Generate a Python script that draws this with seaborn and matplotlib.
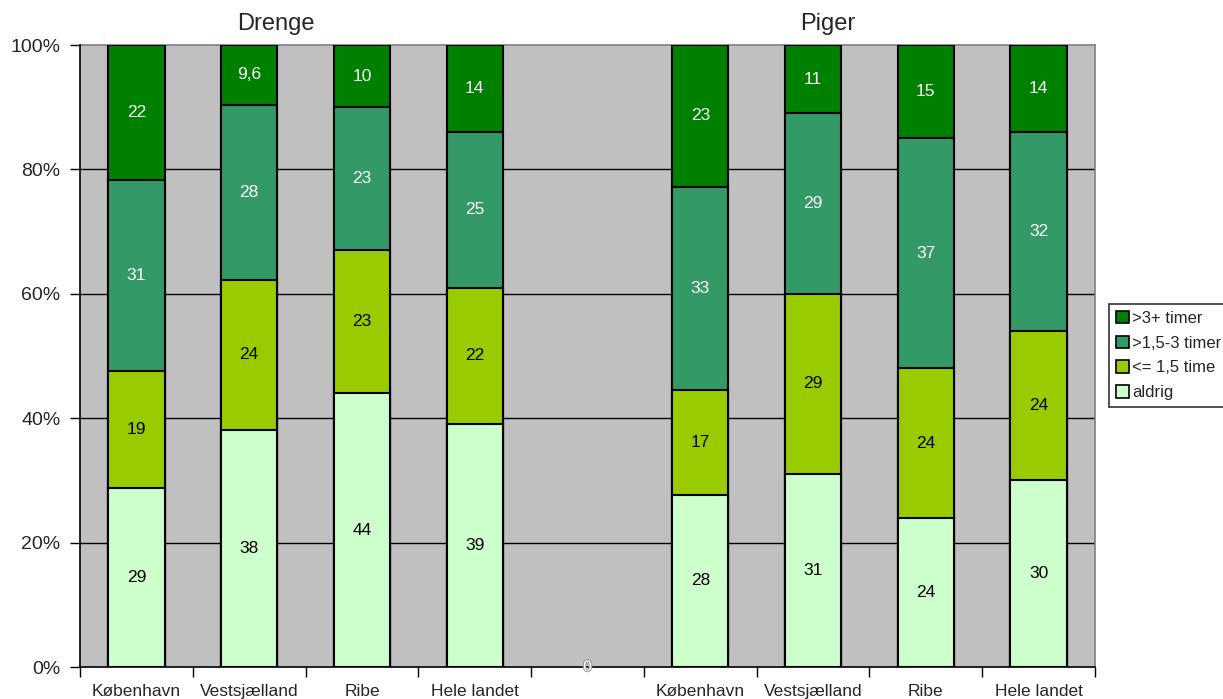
import numpy as np
import pandas as pd
import matplotlib
matplotlib.use("Agg")
import matplotlib.pyplot as plt
import matplotlib.patheffects as pe
from matplotlib.patches import Patch
import seaborn as sns

# Survey shares (percent) per region, stacked bottom -> top
regions = ["København", "Vestsjælland", "Ribe", "Hele landet"]
groups = ["Drenge", "Piger"]
series = ["aldrig", "<= 1,5 time", ">1,5-3 timer", ">3+ timer"]

drenge_aldrig = [29, 38, 44, 39]
drenge_le15 = [19, 24, 23, 22]
drenge_15_3 = [31, 28, 23, 25]
drenge_gt3 = [22, 9.6, 10, 14]

piger_aldrig = [28, 31, 24, 30]
piger_le15 = [17, 29, 24, 24]
piger_15_3 = [33, 29, 37, 32]
piger_gt3 = [23, 11, 15, 14]

colors = ["#CCFFCC", "#99CC00", "#339966", "#008000"]
label_colors = ["black", "black", "white", "white"]

sns.set_style("white")
plt.rcParams["font.family"] = ["Liberation Sans", "DejaVu Sans"]

values = {
    "Drenge": [drenge_aldrig, drenge_le15, drenge_15_3, drenge_gt3],
    "Piger": [piger_aldrig, piger_le15, piger_15_3, piger_gt3],
}

rows = []
for g in groups:
    for r_i, reg in enumerate(regions):
        key = f"{g}|{reg}"
        vals = [values[g][s][r_i] for s in range(4)]
        total = sum(vals)
        cum = 0.0
        for s_i, v in enumerate(vals):
            pct = v / total * 100
            rows.append(dict(key=key, series=series[s_i], value=v,
                             bottom=cum, top=cum + pct))
            cum += pct
df = pd.DataFrame(rows)

order = [f"Drenge|{r}" for r in regions] + ["gap"] + [f"Piger|{r}" for r in regions]

fig = plt.figure(figsize=(12.23, 6.99), dpi=100)
ax = fig.add_axes([80 / 1223, 1 - 667 / 699, 1015 / 1223, 622 / 699])
ax.set_facecolor("#C0C0C0")

# Overlapping cumulative bars, tallest first
for s_i in reversed(range(4)):
    sub = df[df["series"] == series[s_i]]
    sns.barplot(data=sub, x="key", y="top", order=order, color=colors[s_i],
                saturation=1, width=0.5, edgecolor="black", linewidth=1.5,
                errorbar=None, ax=ax, zorder=3)

# Segment labels
for _, row in df.iterrows():
    s_i = series.index(row["series"])
    xpos = order.index(row["key"])
    txt = f"{row['value']:g}".replace(".", ",")
    ax.text(xpos, (row["bottom"] + row["top"]) / 2, txt, ha="center",
            va="center", fontsize=12.5, color=label_colors[s_i], zorder=5)

# Empty separator slot label
ax.text(4, 0, "0", ha="center", va="center", fontsize=11, color="white",
        zorder=6, clip_on=False,
        path_effects=[pe.withStroke(linewidth=1.5, foreground="#999999")])

ax.set_xlim(-0.5, 8.5)
ax.set_ylim(0, 100)
ax.set_xlabel("")
ax.set_ylabel("")

# Gridlines
for y in [20, 40, 60, 80]:
    ax.axhline(y, color="black", lw=1, zorder=1)

ax.set_yticks([0, 20, 40, 60, 80, 100])
ax.set_yticklabels([f"{v}%" for v in [0, 20, 40, 60, 80, 100]], fontsize=14)
ax.tick_params(axis="y", direction="out", length=7, width=1, color="black",
               pad=7, left=True)

ax.set_xticks(np.arange(-0.5, 9, 1))
ax.set_xticklabels([])
ax.set_xticks(np.arange(0, 9), minor=True)
ax.set_xticklabels(regions + [""] + regions, minor=True, fontsize=12.5)
ax.tick_params(axis="x", which="major", direction="out", length=7, width=1,
               color="black", bottom=True)
ax.tick_params(axis="x", which="minor", length=0, pad=12)

for side in ["left", "bottom"]:
    ax.spines[side].set_color("black")
    ax.spines[side].set_linewidth(1.2)
for side in ["top", "right"]:
    ax.spines[side].set_color("#808080")
    ax.spines[side].set_linewidth(1.2)
ax.spines["left"].set_zorder(4)
ax.spines["bottom"].set_zorder(4)

# Group titles
fig.text(276 / 1223, 1 - 24 / 699, "Drenge", ha="center", va="center", fontsize=17)
fig.text(828 / 1223, 1 - 24 / 699, "Piger", ha="center", va="center", fontsize=17)

# Legend
handles = [Patch(facecolor=colors[i], edgecolor="black", lw=1.2, label=series[i])
           for i in reversed(range(4))]
leg = fig.legend(handles=handles, loc="upper left",
                 bbox_to_anchor=(1109 / 1223, 1 - 304 / 699),
                 frameon=True, fancybox=False, fontsize=12,
                 handlelength=0.8, handleheight=0.8, handletextpad=0.2,
                 labelspacing=0.58, borderpad=0.4, borderaxespad=0)
leg.get_frame().set_edgecolor("black")
leg.get_frame().set_linewidth(1.2)

fig.savefig("out.png", dpi=100)
